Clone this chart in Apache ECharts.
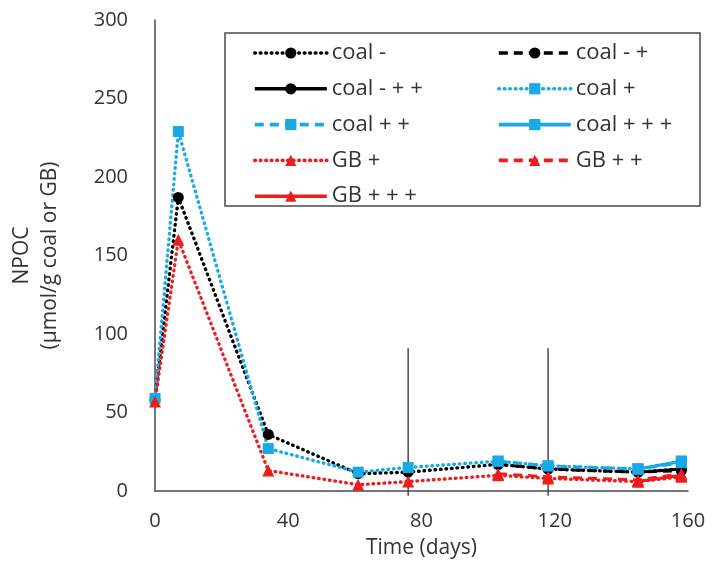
<!DOCTYPE html>
<html>
<head>
<meta charset="utf-8">
<script src="https://cdn.jsdelivr.net/npm/echarts@6/dist/echarts.min.js"></script>
<style>
  html, body { margin: 0; padding: 0; background: #ffffff; }
  #chart { width: 716px; height: 573px; }
</style>
</head>
<body>
<div id="chart"></div>
<script>
// Sampling days (x) and NPOC values (µmol/g coal or GB)
const days = [0, 7, 34, 61, 76, 103, 118, 145, 158];

const coalMinus        = [58, 187, 36, 11, 12, 17, 14, 12, 14];
const coalMinusPlus    = [null, null, null, null, null, 17, 14, 12, 13];
const coalMinusPlusPlus = [null, null, null, null, null, null, null, 12, 14];

const coalPlus         = [59, 229, 27, 12, 15, 19, 16, 14, 19];
const coalPlusPlus     = [null, null, null, null, null, 19, 16, 14, 18];
const coalPlusPlusPlus = [null, null, null, null, null, null, null, 14, 19];

const gbPlus           = [57, 160, 13, 4, 6, 10, 8, 6, 9];
const gbPlusPlus       = [null, null, null, null, null, 11, 9, 7, 11];
const gbPlusPlusPlus   = [null, null, null, null, null, null, null, 6, 10];

// Days on which amendments were added, drawn as vertical guide lines
const additionDays = [76, 118];
const additionTop = 91;
const additionBottom = -3;

const seriesNames = [
  'coal -', 'coal - +', 'coal - + +',
  'coal +', 'coal + +', 'coal + + +',
  'GB +', 'GB + +', 'GB + + +'
];
const legendLeftCol = ['coal -', 'coal - + +', 'coal + +', 'GB +', 'GB + + +'];
const legendRightCol = ['coal - +', 'coal +', 'coal + + +', 'GB + +'];

const FONT = 'Open Sans';
const TEXT = '#333333';
const AXIS = '#4a4a4a';

const BLACK = '#000000';
const BLUE = '#19a9e6';
const RED = '#ee1c1c';

const STYLES = {
  dotted: { width: 3.4, type: [0.6, 4.9], cap: 'round' },
  dashed: { width: 3, type: [9, 6], cap: 'butt' },
  solid:  { width: 3, type: 'solid', cap: 'butt' }
};

function pairs(values) {
  return days.map((d, i) => [d, values[i] == null ? '-' : values[i]]);
}

function makeSeries(name, values, color, symbol, size, style) {
  return {
    name: name,
    type: 'line',
    data: pairs(values),
    symbol: symbol,
    symbolSize: size,
    showAllSymbol: true,
    connectNulls: false,
    itemStyle: { color: color },
    lineStyle: Object.assign({ color: color }, STYLES[style]),
    emphasis: { disabled: true },
    animation: false,
    z: 3
  };
}

const chart = echarts.init(document.getElementById('chart'), null, { renderer: 'canvas' });

const legendCommon = {
  orient: 'vertical',
  top: 42,
  padding: 0,
  itemWidth: 72,
  itemHeight: 14,
  itemGap: 13.8,
  selectedMode: false,
  lineStyle: { width: 3.6 },
  textStyle: { fontFamily: FONT, fontSize: 22, color: TEXT, lineHeight: 20 }
};

chart.setOption({
  backgroundColor: '#ffffff',
  animation: false,
  grid: { left: 155, right: 28, top: 20, bottom: 82, containLabel: false },
  xAxis: {
    type: 'value',
    min: 0, max: 160, interval: 40,
    name: 'Time (days)',
    nameLocation: 'middle',
    nameGap: 47,
    nameTextStyle: { fontFamily: FONT, fontSize: 21, color: TEXT },
    axisLine: { show: true, lineStyle: { color: AXIS, width: 1.5 } },
    axisTick: { show: false },
    splitLine: { show: false },
    axisLabel: { fontFamily: FONT, fontSize: 20, color: TEXT, margin: 20 }
  },
  yAxis: {
    type: 'value',
    min: 0, max: 300, interval: 50,
    name: 'NPOC\n(µmol/g coal or GB)',
    nameLocation: 'middle',
    nameGap: 91,
    nameRotate: 90,
    nameTextStyle: { fontFamily: FONT, fontSize: 21, color: TEXT, lineHeight: 28, align: 'center' },
    axisLine: { show: true, lineStyle: { color: AXIS, width: 1.5 } },
    axisTick: { show: false },
    splitLine: { show: false },
    axisLabel: { fontFamily: FONT, fontSize: 20, color: TEXT, margin: 27 }
  },
  legend: [
    Object.assign({ left: 253, data: legendLeftCol }, legendCommon),
    Object.assign({ left: 497, data: legendRightCol }, legendCommon)
  ],
  graphic: [{
    type: 'rect',
    shape: { x: 225, y: 33, width: 475, height: 173 },
    style: { fill: 'none', stroke: AXIS, lineWidth: 1.5 },
    z: 10
  }],
  series: [
    {
      name: 'additions',
      type: 'custom',
      clip: false,
      silent: true,
      data: additionDays.map(d => [d, additionTop, additionBottom]),
      renderItem: function (params, api) {
        const top = api.coord([api.value(0), api.value(1)]);
        const bottom = api.coord([api.value(0), api.value(2)]);
        return {
          type: 'line',
          shape: { x1: top[0], y1: top[1], x2: bottom[0], y2: bottom[1] },
          style: { stroke: AXIS, lineWidth: 1.5 }
        };
      },
      z: 2
    },
    makeSeries(seriesNames[0], coalMinus, BLACK, 'circle', 11, 'dotted'),
    makeSeries(seriesNames[1], coalMinusPlus, BLACK, 'circle', 11, 'dashed'),
    makeSeries(seriesNames[2], coalMinusPlusPlus, BLACK, 'circle', 11, 'solid'),
    makeSeries(seriesNames[3], coalPlus, BLUE, 'rect', 11, 'dotted'),
    makeSeries(seriesNames[4], coalPlusPlus, BLUE, 'rect', 11, 'dashed'),
    makeSeries(seriesNames[5], coalPlusPlusPlus, BLUE, 'rect', 11, 'solid'),
    makeSeries(seriesNames[6], gbPlus, RED, 'triangle', 12, 'dotted'),
    makeSeries(seriesNames[7], gbPlusPlus, RED, 'triangle', 12, 'dashed'),
    makeSeries(seriesNames[8], gbPlusPlusPlus, RED, 'triangle', 12, 'solid')
  ]
});
</script>
</body>
</html>
